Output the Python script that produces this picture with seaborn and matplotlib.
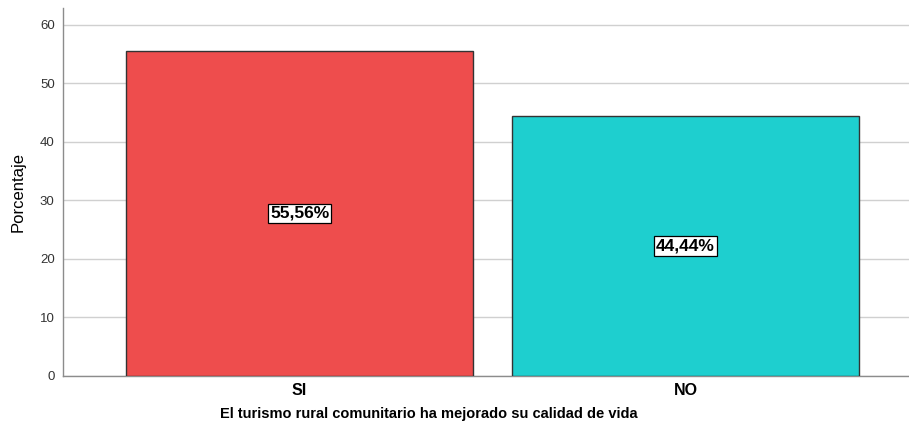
import matplotlib
matplotlib.use("Agg")
import matplotlib.pyplot as plt
import seaborn as sns
import pandas as pd

categories = ["SI", "NO"]
percentages = [55.56, 44.44]
bar_colors = ["#EE4D4D", "#1ECFCF"]
value_labels = ["55,56%", "44,44%"]
yticks = [0, 10, 20, 30, 40, 50, 60]

sns.set_style("white")
plt.rcParams["font.family"] = ["Liberation Sans", "DejaVu Sans"]

df = pd.DataFrame({"cat": categories, "pct": percentages})

fig = plt.figure(figsize=(9.09, 4.30), dpi=100)
ax = fig.add_axes([63 / 909, 1 - 376 / 430, 846 / 909, 368 / 430])

sns.barplot(data=df, x="cat", y="pct", hue="cat", palette=bar_colors,
            width=0.9, edgecolor="#333333", linewidth=1.0, legend=False,
            saturation=1, ax=ax, zorder=3)

for i, (v, lab) in enumerate(zip(percentages, value_labels)):
    ax.text(i, v / 2, lab, ha="center", va="center", fontsize=12.5,
            fontweight="bold", color="black", zorder=5,
            bbox=dict(boxstyle="square,pad=0.12", fc="white", ec="black", lw=0.9))

ax.set_ylim(0, 62.9)
ax.set_xlim(-0.613, 1.579)
ax.set_yticks(yticks)
ax.yaxis.grid(True, color="#D0D0D0", linewidth=1.0, zorder=0)
ax.set_axisbelow(True)

for s in ["top", "right"]:
    ax.spines[s].set_visible(False)
for s in ["left", "bottom"]:
    ax.spines[s].set_color("#8C8C8C")
    ax.spines[s].set_linewidth(1.0)

ax.tick_params(axis="y", length=0, labelsize=9.5, labelcolor="#333333", pad=6)
ax.tick_params(axis="x", length=0, labelsize=11.5, labelcolor="black", pad=5)
for t in ax.get_xticklabels():
    t.set_fontweight("bold")

ax.set_ylabel("Porcentaje", fontsize=12, color="black", labelpad=10)
ax.set_xlabel("El turismo rural comunitario ha mejorado su calidad de vida",
              fontsize=10.5, fontweight="bold", color="black")
ax.xaxis.set_label_coords((429 - 63) / 846, -0.085)

fig.savefig("out.png", dpi=100)
